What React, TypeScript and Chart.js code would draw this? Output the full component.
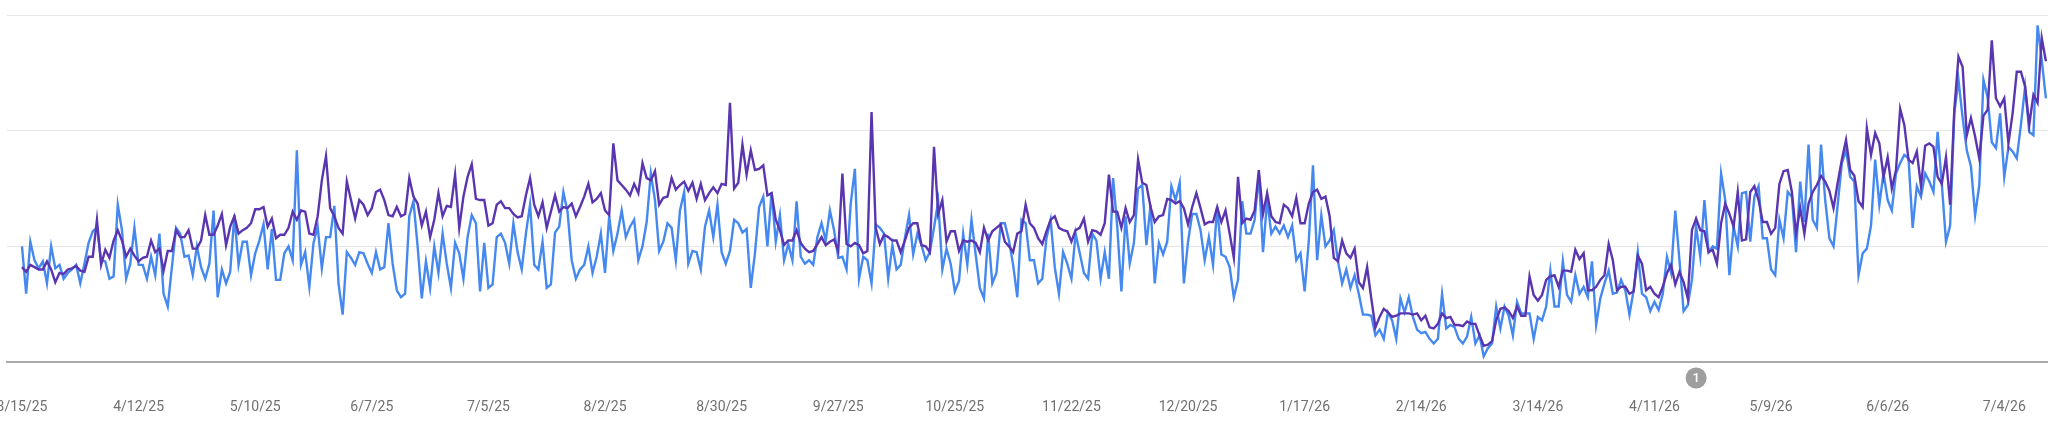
import React, { useEffect, useRef } from 'react';
import { Chart, registerables } from 'chart.js';

Chart.register(...registerables);

// x-axis tick labels, one every 28 days starting from the first data day (3/15/25)
const TICK_LABELS = [
  '3/15/25', '4/12/25', '5/10/25', '6/7/25', '7/5/25', '8/2/25', '8/30/25', '9/27/25',
  '10/25/25', '11/22/25', '12/20/25', '1/17/26', '2/14/26', '3/14/26', '4/11/26',
  '5/9/26', '6/6/26', '7/4/26',
];
const TICK_STEP_DAYS = 28;

// annotation marker (day index from 3/15/25) and its text
const ANNOTATION_DAYS = [402];
const ANNOTATION_TEXT = ['1'];

// daily values, series 1 (purple)
const PURPLE = [
  82, 78, 84, 82, 80, 80, 87, 80, 69, 77,
  76, 80, 81, 83, 79, 78, 91, 91, 123, 84,
  97, 90, 105, 114, 105, 91, 98, 92, 87, 90,
  91, 105, 95, 98, 79, 96, 96, 114, 108, 108,
  114, 98, 98, 105, 127, 110, 110, 118, 128, 101,
  117, 126, 111, 114, 116, 120, 132, 132, 134, 117,
  124, 107, 110, 110, 116, 130, 123, 131, 130, 111,
  110, 126, 157, 178, 133, 126, 116, 111, 156, 140,
  124, 140, 136, 127, 133, 147, 149, 140, 127, 126,
  134, 126, 128, 159, 143, 137, 118, 130, 108, 123,
  146, 126, 135, 134, 162, 116, 143, 160, 171, 141,
  140, 140, 118, 120, 136, 139, 133, 133, 128, 125,
  126, 144, 159, 136, 126, 138, 116, 130, 144, 130,
  134, 133, 137, 126, 134, 143, 154, 138, 141, 146,
  131, 127, 189, 157, 153, 149, 144, 154, 146, 172,
  159, 157, 165, 136, 142, 143, 159, 149, 153, 156,
  148, 155, 141, 154, 140, 146, 151, 146, 154, 153,
  224, 150, 155, 188, 162, 183, 166, 167, 170, 144,
  146, 123, 114, 101, 105, 105, 114, 103, 98, 95,
  96, 102, 108, 101, 104, 106, 96, 163, 102, 100,
  103, 101, 94, 96, 216, 116, 102, 110, 108, 105,
  105, 95, 105, 116, 120, 120, 101, 100, 95, 186,
  128, 140, 104, 113, 113, 96, 105, 104, 105, 103,
  95, 116, 105, 113, 116, 119, 104, 100, 95, 111,
  113, 136, 120, 116, 107, 102, 113, 123, 126, 116,
  114, 113, 104, 114, 116, 124, 104, 114, 113, 110,
  120, 162, 130, 130, 116, 133, 121, 127, 175, 155,
  153, 134, 121, 126, 127, 141, 140, 137, 139, 133,
  119, 134, 146, 133, 119, 121, 121, 134, 121, 131,
  111, 90, 160, 120, 124, 123, 131, 166, 128, 146,
  126, 121, 120, 136, 133, 126, 142, 120, 120, 137,
  147, 149, 141, 143, 126, 90, 87, 105, 94, 90,
  98, 69, 64, 82, 55, 30, 39, 46, 43, 39,
  40, 42, 42, 42, 41, 42, 36, 40, 30, 29,
  33, 42, 38, 39, 32, 32, 31, 35, 33, 33,
  23, 14, 15, 18, 36, 46, 47, 44, 38, 48,
  40, 40, 74, 58, 53, 58, 71, 74, 75, 65,
  79, 79, 78, 97, 89, 94, 62, 62, 65, 71,
  75, 102, 88, 62, 65, 65, 59, 61, 92, 85,
  62, 65, 59, 56, 65, 77, 84, 67, 78, 69,
  55, 114, 124, 114, 113, 95, 97, 85, 120, 137,
  128, 117, 147, 105, 106, 147, 152, 140, 121, 121,
  111, 116, 154, 165, 166, 147, 111, 133, 111, 137,
  147, 153, 161, 156, 148, 133, 155, 175, 192, 166,
  161, 139, 134, 202, 179, 198, 189, 160, 177, 150,
  166, 219, 205, 175, 172, 182, 152, 187, 189, 186,
  160, 154, 177, 136, 218, 264, 255, 196, 211, 195,
  176, 213, 218, 278, 228, 221, 228, 189, 215, 251,
  251, 238, 205, 231, 224, 280, 260,
];

// daily values, series 2 (blue)
const BLUE = [
  100, 59, 104, 88, 81, 87, 68, 100, 81, 84,
  72, 77, 80, 84, 68, 85, 103, 113, 116, 88,
  87, 72, 74, 136, 114, 72, 85, 116, 84, 84,
  72, 91, 75, 111, 59, 48, 82, 116, 111, 91,
  92, 75, 100, 82, 72, 85, 131, 56, 80, 68,
  78, 127, 84, 104, 104, 75, 94, 105, 119, 80,
  115, 71, 71, 94, 100, 88, 183, 84, 95, 65,
  103, 117, 81, 108, 108, 135, 68, 41, 95, 90,
  84, 95, 94, 85, 77, 95, 80, 82, 120, 85,
  62, 56, 59, 126, 139, 100, 55, 87, 64, 100,
  77, 111, 85, 64, 103, 94, 72, 108, 127, 120,
  61, 103, 64, 67, 108, 111, 103, 85, 120, 95,
  80, 111, 136, 84, 80, 104, 64, 67, 112, 117,
  147, 130, 88, 72, 80, 84, 100, 77, 91, 111,
  77, 126, 96, 111, 131, 108, 117, 123, 88, 100,
  121, 163, 140, 96, 104, 120, 116, 88, 131, 147,
  85, 96, 95, 80, 117, 131, 108, 136, 95, 85,
  96, 123, 120, 112, 115, 64, 94, 134, 143, 100,
  147, 104, 127, 88, 102, 88, 139, 91, 85, 88,
  84, 108, 120, 105, 131, 114, 90, 91, 80, 137,
  167, 72, 91, 88, 68, 119, 116, 111, 72, 101,
  80, 84, 107, 127, 93, 111, 101, 88, 95, 116,
  139, 80, 98, 85, 61, 70, 111, 84, 123, 93,
  64, 55, 111, 68, 77, 120, 120, 105, 84, 56,
  123, 120, 88, 88, 68, 72, 107, 123, 82, 59,
  95, 85, 72, 111, 94, 77, 72, 111, 105, 72,
  95, 72, 159, 117, 61, 126, 85, 103, 150, 153,
  101, 136, 68, 103, 93, 104, 152, 140, 155, 68,
  104, 128, 128, 114, 88, 108, 84, 134, 93, 91,
  82, 56, 71, 139, 111, 111, 123, 162, 95, 140,
  111, 117, 111, 118, 108, 118, 88, 94, 61, 105,
  170, 88, 127, 100, 105, 114, 87, 68, 80, 64,
  75, 59, 41, 41, 40, 23, 28, 20, 43, 36,
  20, 55, 43, 56, 39, 28, 25, 26, 20, 16,
  20, 59, 29, 32, 30, 20, 16, 22, 39, 16,
  23, 5, 12, 16, 48, 29, 48, 40, 23, 52,
  42, 42, 42, 20, 39, 36, 48, 79, 48, 48,
  87, 58, 52, 75, 59, 65, 56, 87, 32, 55,
  68, 79, 59, 60, 71, 62, 41, 62, 95, 59,
  56, 44, 52, 45, 59, 91, 77, 131, 88, 44,
  49, 71, 117, 91, 140, 95, 100, 98, 163, 140,
  75, 117, 100, 146, 147, 104, 143, 152, 107, 107,
  80, 75, 123, 107, 147, 143, 95, 156, 121, 188,
  123, 116, 188, 140, 107, 100, 136, 172, 183, 160,
  156, 75, 94, 98, 118, 175, 136, 163, 140, 131,
  163, 172, 179, 176, 116, 152, 143, 163, 156, 147,
  199, 154, 104, 118, 215, 244, 211, 183, 169, 127,
  153, 244, 229, 190, 185, 215, 160, 186, 182, 176,
  205, 238, 199, 196, 291, 261, 228,
];

const Y_MAX = 300;
const Y_STEP = 100;

const annotationPlugin = {
  id: 'annotationMarkers',
  afterDraw(chart: any) {
    const { ctx, chartArea, scales } = chart;
    const xs = scales.x;
    ANNOTATION_DAYS.forEach((d, k) => {
      const x = xs.getPixelForValue(d);
      const y = chartArea.bottom + 16;
      ctx.save();
      ctx.beginPath();
      ctx.arc(x, y, 10.5, 0, Math.PI * 2);
      ctx.fillStyle = '#9e9e9e';
      ctx.fill();
      ctx.fillStyle = '#ffffff';
      ctx.font = '500 13px Roboto';
      ctx.textAlign = 'center';
      ctx.textBaseline = 'middle';
      ctx.fillText(ANNOTATION_TEXT[k], x, y + 0.5);
      ctx.restore();
    });
  },
};

export default function App() {
  const ref = useRef<HTMLCanvasElement>(null);

  useEffect(() => {
    document.body.style.margin = '0';
    const canvas = ref.current;
    if (!canvas) return;
    const toPoints = (arr: number[]) => arr.map((v, i) => ({ x: i, y: v }));
    const chart = new Chart(canvas, {
      type: 'line',
      data: {
        datasets: [
          {
            label: 'Series 1',
            data: toPoints(PURPLE),
            borderColor: '#5a35b0',
            borderWidth: 2.4,
            pointRadius: 0,
            tension: 0,
            fill: false,
          },
          {
            label: 'Series 2',
            data: toPoints(BLUE),
            borderColor: '#4589f0',
            borderWidth: 2.4,
            pointRadius: 0,
            tension: 0,
            fill: false,
          },
        ],
      },
      options: {
        animation: false,
        responsive: false,
        devicePixelRatio: 1,
        layout: { padding: { left: 7, right: 0, top: 15, bottom: 0 } },
        plugins: {
          legend: { display: false },
          tooltip: { enabled: false },
        },
        font: { family: 'Roboto' },
        scales: {
          x: {
            type: 'linear',
            min: -3.6,
            max: 486.5,
            grid: { display: false, drawTicks: false },
            border: { display: true, color: '#ababab', width: 2 },
            afterBuildTicks: (scale: any) => {
              scale.ticks = TICK_LABELS.map((_, k) => ({ value: k * TICK_STEP_DAYS }));
            },
            afterFit: (scale: any) => {
              scale.paddingLeft = 0;
              scale.paddingRight = 0;
              scale.height = 75;
            },
            ticks: {
              autoSkip: false,
              maxRotation: 0,
              minRotation: 0,
              padding: 37,
              color: '#707070',
              font: { family: 'Roboto', size: 14 },
              callback: (_v: any, index: number) => TICK_LABELS[index] ?? '',
            },
          },
          y: {
            min: 0,
            max: Y_MAX,
            ticks: { display: false, stepSize: Y_STEP },
            grid: { color: '#e6e6e6', lineWidth: 1, drawTicks: false },
            border: { display: false },
          },
        },
      },
      plugins: [annotationPlugin],
    } as any);
    return () => chart.destroy();
  }, []);

  return (
    <div style={{ width: 2048, height: 437, background: '#ffffff' }}>
      <canvas ref={ref} width={2048} height={437} style={{ display: 'block' }} />
    </div>
  );
}
